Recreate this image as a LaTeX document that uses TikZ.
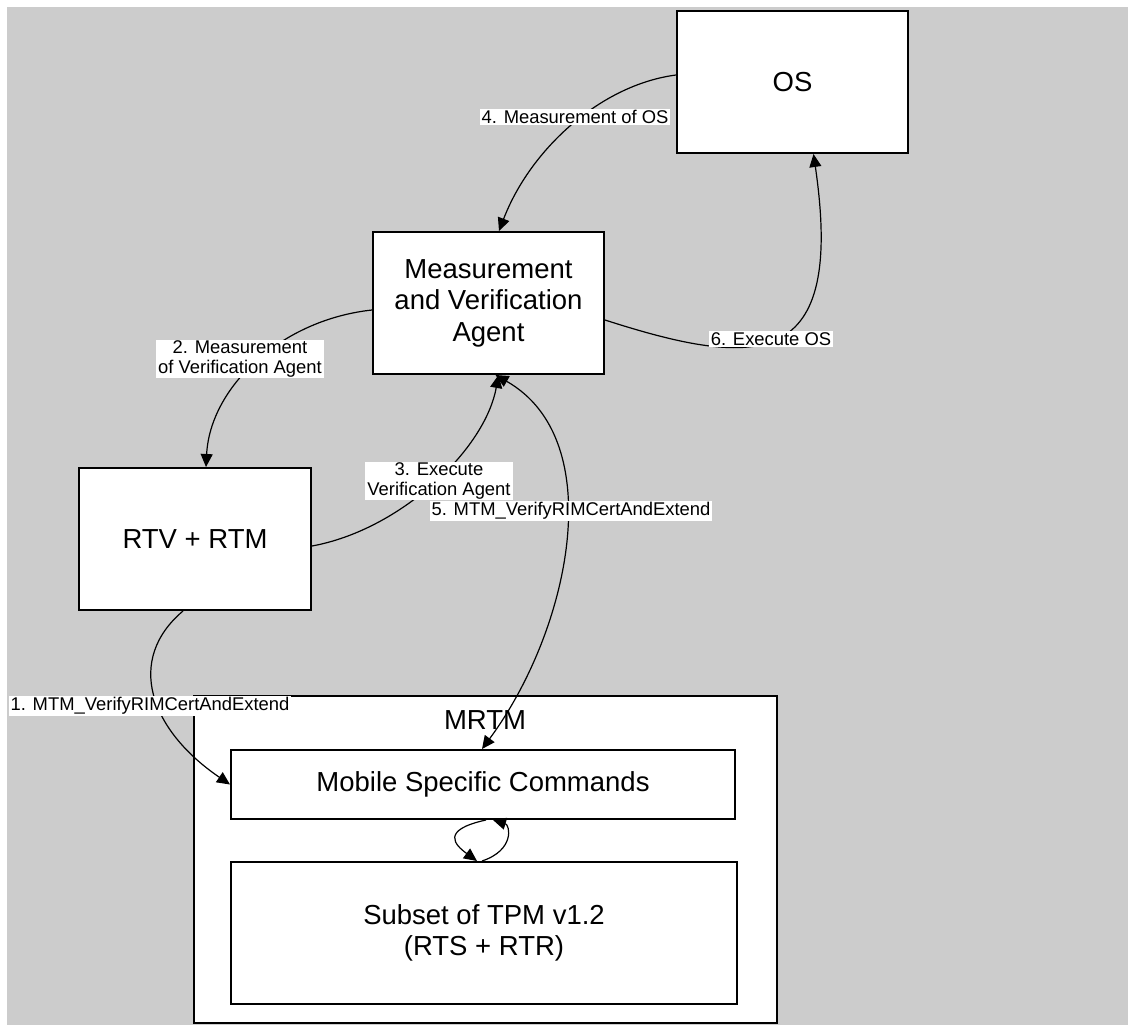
\documentclass[tikz,border=0pt]{standalone}
\usepackage{fontspec}
\setmainfont{Liberation Sans}
\usetikzlibrary{arrows.meta,calc}
\begin{document}
\begin{tikzpicture}[x=1pt,y=-1pt,
  box/.style={draw=black,line width=2pt,fill=white,align=center,
    font=\fontsize{27.5}{31.5}\selectfont,inner sep=0pt},
  conn/.style={line width=1.2pt,-{Triangle[length=13pt,width=12pt]}},
  biconn/.style={line width=1.2pt,{Triangle[length=13pt,width=12pt]}-{Triangle[length=13pt,width=12pt]}},
  lbl/.style={fill=white,inner xsep=2pt,inner ysep=1pt,align=center,
    font=\fontsize{18.4}{19.5}\selectfont}]
\useasboundingbox (0,0) rectangle (1128,1025);
\fill[fill={rgb,255:red,204;green,204;blue,204}] (7,7) rectangle (1128,1025);

\node[box,minimum width=231pt,minimum height=142pt] (os) at (792.5,82) {OS};
\node[box,minimum width=231pt,minimum height=142pt] (mva) at (488.5,303) {Measurement\\and Verification\\Agent};
\node[box,minimum width=232pt,minimum height=142pt] (rtv) at (195,539) {RTV + RTM};
\node[box,minimum width=583pt,minimum height=327pt] (mrtm) at (485.5,859.5) {};
\node[font=\fontsize{27.5}{31.5}\selectfont,inner sep=0pt] (mrtmlbl) at (485,720) {MRTM};
\node[box,minimum width=504pt,minimum height=69pt] (msc) at (483,784.5) {Mobile Specific Commands};
\node[box,minimum width=506pt,minimum height=142pt] (tpm) at (484,933) {Subset of TPM v1.2\\(RTS + RTR)};

% 4. OS -> MVA
\draw[conn] ($(os.west)+(0,-7)$) .. controls (600,85) and (530,150) .. ($(mva.north)+(10.5,0)$);
% 2. MVA -> RTV
\draw[conn] ($(mva.west)+(0,7)$) .. controls (280,320) and (210,388) .. ($(rtv.north)+(11,0)$);
% 3. RTV -> MVA
\draw[conn] ($(rtv.east)+(0,7)$) .. controls (400,530) and (485,450) .. ($(mva.south)+(10,0)$);
% 5. MVA <-> MSC
\draw[biconn] ($(mva.south)+(7,0)$) .. controls (610,440) and (570,630) .. ($(msc.north)+(-1,0)$);
% 6. MVA -> OS
\draw[conn] ($(mva.east)+(0,17)$) .. controls (760,370) and (845,370) .. ($(os.south)+(21,0)$);
% 1. RTV -> MSC
\draw[conn] ($(rtv.south)+(-12,0)$) .. controls (125,660) and (150,730) .. (msc.west);
% self loop MSC <-> TPM
\draw[conn] ($(msc.south)+(3,0)$) .. controls (440,830) and (455,845) .. ($(tpm.north)+(-7,0)$);
\draw[conn] ($(tpm.north)+(-2,0)$) .. controls (515,850) and (510,825) .. ($(msc.south)+(10,0)$);

\node[lbl] (l4) at (575,117) {4. Measurement of OS};
\node[lbl] (l6) at (771,339) {6. Execute OS};
\node[lbl] (l2) at (240,359) {2. Measurement\\of Verification Agent};
\node[lbl] (l3) at (439,481) {3. Execute\\Verification Agent};
\node[lbl] (l5) at (571,511) {5. MTM\_VerifyRIMCertAndExtend};
\node[lbl] (l1) at (150,706) {1. MTM\_VerifyRIMCertAndExtend};
\end{tikzpicture}
\end{document}
